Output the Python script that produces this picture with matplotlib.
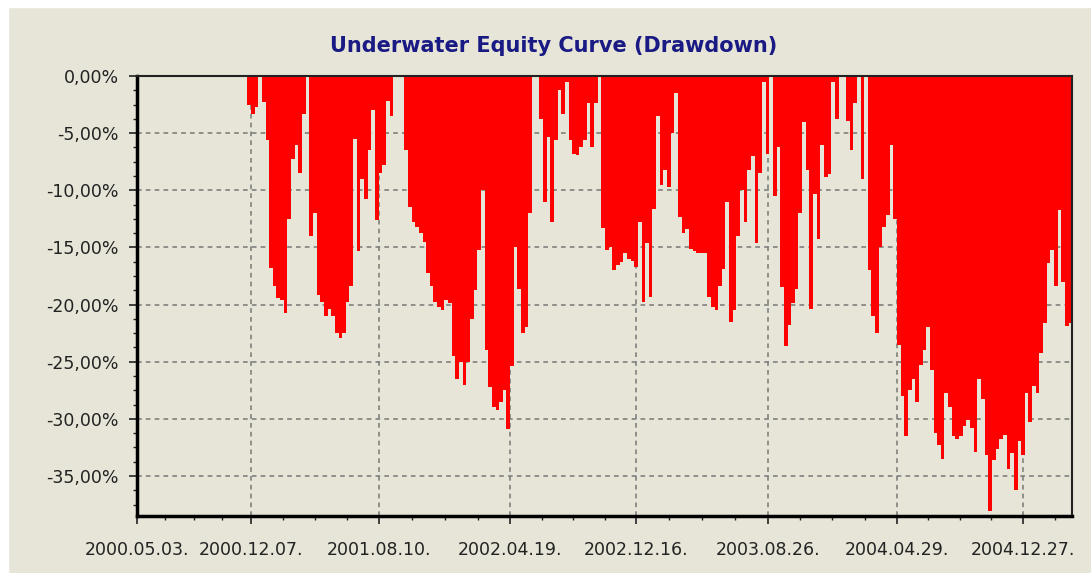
import numpy as np
import pandas as pd
import matplotlib
matplotlib.use("Agg")
import matplotlib.pyplot as plt
import matplotlib.dates as mdates
from matplotlib.patches import Rectangle
from matplotlib.ticker import FixedLocator, MultipleLocator

# weekly drawdown samples (%), first bar on 2000-12-04
start_date = "2000-12-04"
drawdown = [
    -2.5, -3.3, -2.7, 0.0, -2.3, -5.6, -16.8, -18.4, -19.4, -19.6,
    -20.7, -12.5, -7.3, -6.0, -8.5, -3.3, 0.0, -14.0, -12.0, -19.2,
    -19.8, -21.0, -20.4, -21.0, -22.5, -22.9, -22.5, -19.8, -18.4, -5.5,
    -15.3, -9.0, -10.8, -6.5, -3.0, -12.6, -8.5, -7.8, -2.2, -3.5,
    0.0, 0.0, 0.0, -6.5, -11.5, -12.8, -13.2, -13.7, -14.5, -17.2,
    -18.4, -19.8, -20.2, -20.5, -19.6, -19.9, -24.5, -26.5, -25.0, -27.0,
    -25.0, -21.3, -18.7, -15.2, -10.0, -24.0, -27.2, -29.0, -29.2, -28.5,
    -27.5, -30.9, -25.4, -15.0, -18.6, -22.5, -22.0, -12.0, 0.0, 0.0,
    -3.8, -11.0, -5.3, -12.8, -5.6, -1.2, -3.3, -0.5, -5.6, -6.8,
    -6.9, -6.2, -5.6, -2.4, -6.2, -2.4, 0.0, -13.3, -15.2, -15.0,
    -17.0, -16.5, -16.3, -15.5, -16.0, -16.2, -16.7, -12.8, -19.8, -14.6,
    -19.3, -11.6, -3.5, -9.5, -8.2, -9.7, -5.0, -1.5, -12.3, -13.7,
    -13.4, -15.1, -15.3, -15.5, -15.5, -15.5, -19.3, -20.2, -20.5, -18.4,
    -16.9, -11.0, -21.5, -20.5, -14.0, -10.0, -12.8, -8.2, -7.0, -14.6,
    -8.5, -0.5, -6.8, 0.0, -10.5, -6.2, -18.5, -23.6, -21.8, -19.9,
    -18.6, -12.0, -4.0, -8.2, -20.4, -10.3, -14.3, -6.0, -8.8, -8.6,
    -0.5, -3.8, 0.0, 0.0, -3.9, -6.5, -2.4, 0.0, -9.0, 0.0,
    -17.0, -21.0, -22.5, -15.0, -13.2, -12.2, -6.0, -12.5, -23.5, -28.0,
    -31.5, -27.5, -26.5, -28.5, -25.3, -24.0, -22.0, -25.7, -31.2, -32.3,
    -33.5, -27.7, -29.0, -31.5, -31.8, -31.5, -30.6, -30.1, -30.8, -32.9,
    -26.5, -28.3, -33.2, -38.1, -33.6, -32.6, -31.8, -31.4, -34.4, -33.0,
    -36.2, -31.9, -33.2, -27.7, -30.3, -27.1, -27.7, -24.2, -21.6, -16.4,
    -15.2, -18.4, -11.7, -18.0, -21.9, -21.6,
]

x_tick_dates = ["2000-05-03", "2000-12-07", "2001-08-10", "2002-04-19",
                "2002-12-16", "2003-08-26", "2004-04-29", "2004-12-27"]
x_tick_labels = ["2000.05.03.", "2000.12.07.", "2001.08.10.", "2002.04.19.",
                 "2002.12.16.", "2003.08.26.", "2004.04.29.", "2004.12.27."]
y_ticks = [0, -5, -10, -15, -20, -25, -30, -35]

bg = "#E6E5D7"
dates = pd.date_range(start_date, periods=len(drawdown), freq="7D")

fig = plt.figure(figsize=(10.91, 5.73), dpi=100, facecolor=bg)
# white strip on top and left edge
fig.patches.append(Rectangle((0, 0), 8 / 1091, 1, transform=fig.transFigure,
                             color="white", zorder=-1))
fig.patches.append(Rectangle((0, 1 - 7 / 573), 1, 7 / 573,
                             transform=fig.transFigure, color="white", zorder=-1))

ax = fig.add_axes([137 / 1091, 1 - 516 / 573, (1072 - 137) / 1091, (516 - 76) / 573])
ax.set_facecolor(bg)
ax.set_axisbelow(True)

ax.bar(dates, drawdown, width=7, color="#FF0000", linewidth=0, zorder=2)

ax.set_ylim(-38.5, 0)
ax.set_xlim(pd.Timestamp("2000-05-03"), pd.Timestamp("2005-03-31"))

ax.set_yticks(y_ticks)
ax.set_yticklabels([("%.2f" % v).replace(".", ",") + "%" for v in y_ticks])
ax.yaxis.set_minor_locator(MultipleLocator(1.25))

xt = [mdates.date2num(pd.Timestamp(d)) for d in x_tick_dates]
ax.set_xticks(xt)
ax.set_xticklabels(x_tick_labels)
minor = []
for a, b in zip(xt[:-1], xt[1:]):
    minor += list(np.linspace(a, b, 5)[1:-1])
step = (xt[-1] - xt[-2]) / 4
m = xt[-1] + step
xmax = mdates.date2num(pd.Timestamp("2005-03-31"))
while m < xmax:
    minor.append(m)
    m += step
ax.xaxis.set_minor_locator(FixedLocator(minor))

ax.tick_params(axis="both", which="major", length=6, width=1.2, labelsize=12.5,
               colors="#222222")
ax.tick_params(axis="both", which="minor", length=3, width=1.0, colors="#222222")
ax.tick_params(axis="x", which="major", pad=12)
ax.tick_params(axis="y", which="major", pad=7)

ax.grid(True, which="major", color="#7f7f7f", linestyle=(0, (2.8, 2.5)), linewidth=1.2)

for side in ["left", "bottom"]:
    ax.spines[side].set_linewidth(2.5)
    ax.spines[side].set_color("black")
for side in ["top", "right"]:
    ax.spines[side].set_linewidth(1.5)
    ax.spines[side].set_color("#222222")

fig.text(554 / 1091, 1 - 46 / 573, "Underwater Equity Curve (Drawdown)",
         ha="center", va="center", fontsize=15, fontweight="bold", color="#1A1A84")

fig.savefig("out.png", dpi=100, facecolor=bg)
